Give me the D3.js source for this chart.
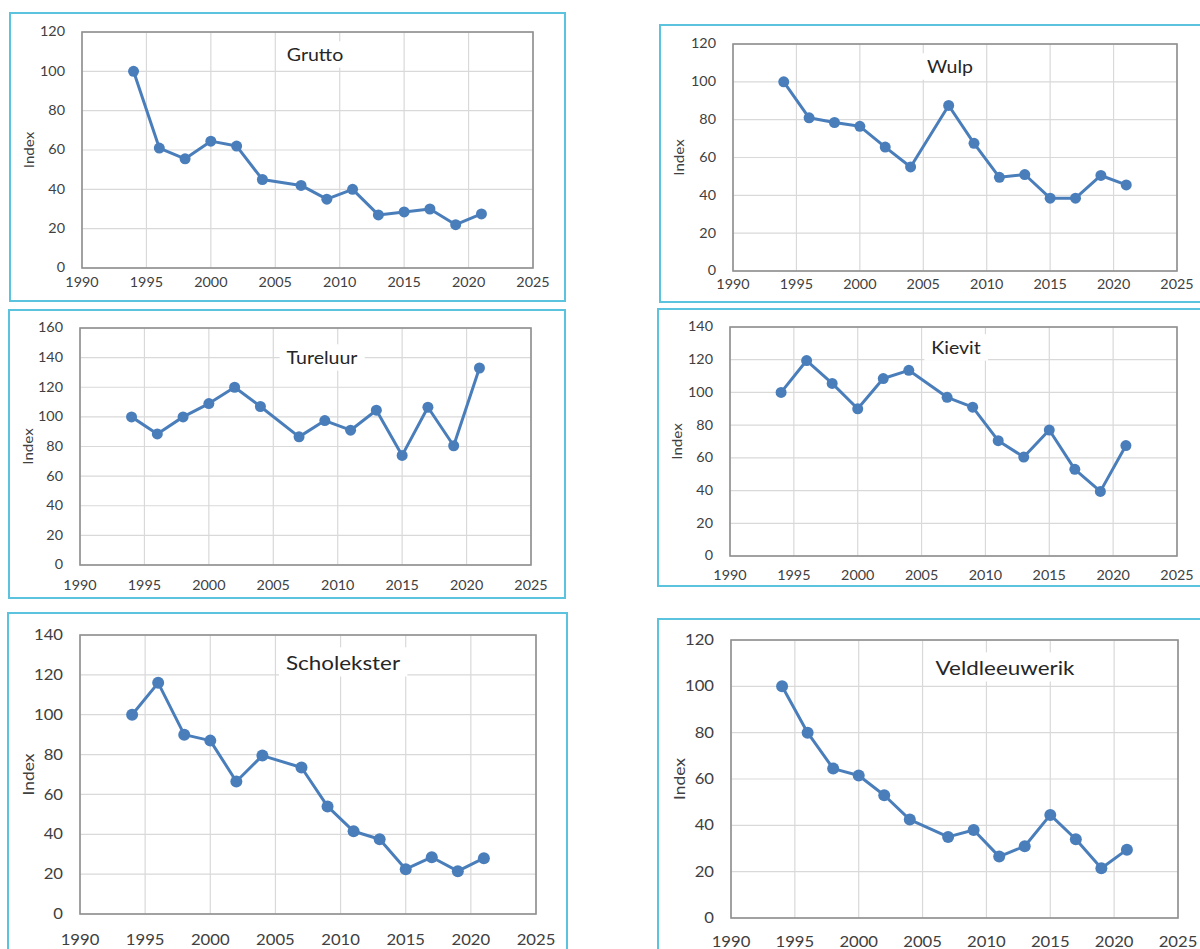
<!DOCTYPE html>
<html>
<head>
<meta charset="utf-8">
<script src="https://cdn.jsdelivr.net/npm/d3@7"></script>
<style>
  html, body { margin: 0; padding: 0; background: #ffffff; }
  svg { display: block; }
  text { font-family: Lato, "Open Sans", sans-serif; }
</style>
</head>
<body>
<svg id="chart" width="1200" height="949"></svg>
<script>
// ---- data ----
const years = [1994, 1996, 1998, 2000, 2002, 2004, 2007, 2009, 2011, 2013, 2015, 2017, 2019, 2021];
const grutto        = [100, 61, 55.5, 64.5, 62, 45, 42, 35, 40, 27, 28.5, 30, 22, 27.5];
const wulp          = [100, 81, 78.5, 76.5, 65.5, 55, 87.5, 67.5, 49.5, 51, 38.5, 38.5, 50.5, 45.5];
const tureluur      = [100, 88.5, 100, 109, 120, 107, 86.5, 97.5, 91, 104.5, 74, 106.5, 80.5, 133];
const kievit        = [100, 119.5, 105.5, 90, 108.5, 113.5, 97, 91, 70.5, 60.5, 77, 53, 39.5, 67.5];
const scholekster   = [100, 116, 90, 87, 66.5, 79.5, 73.5, 54, 41.5, 37.5, 22.5, 28.5, 21.5, 28];
const veldleeuwerik = [100, 80, 64.5, 61.5, 53, 42.5, 35, 38, 26.5, 31, 44.5, 34, 21.5, 29.5];
const xTicks   = [1990, 1995, 2000, 2005, 2010, 2015, 2020, 2025];
const yTicks120 = [0, 20, 40, 60, 80, 100, 120];
const yTicks140 = [0, 20, 40, 60, 80, 100, 120, 140];
const yTicks160 = [0, 20, 40, 60, 80, 100, 120, 140, 160];
const yLabel = "Index";

// ---- layout (positions / sizes) ----
const panels = [
  { title: "Grutto", values: grutto, yTicks: yTicks120,
    box: [10, 13, 565, 301], plot: [82, 32, 533, 268], fs: 12.5, tfs: 17, tx: 315, ty: 55, ix: 29, xo: 15 },
  { title: "Wulp", values: wulp, yTicks: yTicks120,
    box: [660, 25, 1215, 302], plot: [733, 44, 1177, 271], fs: 12.5, tfs: 17, tx: 950, ty: 67, ix: 679, xo: 14 },
  { title: "Tureluur", values: tureluur, yTicks: yTicks160,
    box: [9, 310, 565, 598], plot: [80, 328, 531, 565], fs: 12.5, tfs: 17, tx: 322, ty: 358, ix: 28, xo: 21 },
  { title: "Kievit", values: kievit, yTicks: yTicks140,
    box: [658, 309, 1215, 586], plot: [730, 327, 1177, 556], fs: 12.5, tfs: 17, tx: 956, ty: 348, ix: 677, xo: 20 },
  { title: "Scholekster", values: scholekster, yTicks: yTicks140,
    box: [8, 613, 567, 975], plot: [80, 635, 536, 914], fs: 14.5, tfs: 19.5, tx: 343, ty: 663, ix: 29, xo: 26 },
  { title: "Veldleeuwerik", values: veldleeuwerik, yTicks: yTicks120,
    box: [658, 619, 1215, 975], plot: [731, 640, 1178, 918], fs: 14.5, tfs: 19.5, tx: 1005, ty: 668, ix: 680, xo: 24 }
];

const SX = 1.15; // horizontal stretch of text like the reference
const blue = "#4a7ebb";
const svg = d3.select("#chart");

panels.forEach(p => {
  const [bx0, by0, bx1, by1] = p.box;
  const [px0, py0, px1, py1] = p.plot;
  const g = svg.append("g");

  g.append("rect")
    .attr("x", bx0).attr("y", by0)
    .attr("width", bx1 - bx0).attr("height", by1 - by0)
    .attr("fill", "#fff").attr("stroke", "#5cc3de").attr("stroke-width", 2);

  const x = d3.scaleLinear().domain([xTicks[0], xTicks[xTicks.length - 1]]).range([px0, px1]);
  const y = d3.scaleLinear().domain([0, d3.max(p.yTicks)]).range([py1, py0]);

  // gridlines
  g.append("g").selectAll("line").data(p.yTicks).join("line")
    .attr("x1", px0).attr("x2", px1)
    .attr("y1", d => y(d)).attr("y2", d => y(d))
    .attr("stroke", "#d9d9d9").attr("stroke-width", 1.2);
  g.append("g").selectAll("line").data(xTicks).join("line")
    .attr("y1", py0).attr("y2", py1)
    .attr("x1", d => x(d)).attr("x2", d => x(d))
    .attr("stroke", "#d9d9d9").attr("stroke-width", 1.2);

  // plot border
  g.append("rect")
    .attr("x", px0).attr("y", py0)
    .attr("width", px1 - px0).attr("height", py1 - py0)
    .attr("fill", "none").attr("stroke", "#8f8f8f").attr("stroke-width", 1.6);

  // title with white background
  const tg = g.append("g").attr("transform", `translate(${p.tx},${p.ty}) scale(${SX},1)`);
  const tt = tg.append("text")
    .attr("text-anchor", "middle").attr("dy", "0.35em")
    .attr("font-size", p.tfs).attr("fill", "#262626")
    .text(p.title);
  const bb = tt.node().getBBox();
  tg.insert("rect", "text")
    .attr("x", bb.x - 6).attr("y", bb.y - 3)
    .attr("width", bb.width + 12).attr("height", bb.height + 6)
    .attr("fill", "#fff");

  // y tick labels
  p.yTicks.forEach(t => {
    g.append("g").attr("transform", `translate(${px0 - 17},${y(t)}) scale(${SX},1)`)
      .append("text").attr("text-anchor", "end").attr("dy", "0.35em")
      .attr("font-size", p.fs).attr("fill", "#404040").text(t);
  });
  // x tick labels
  xTicks.forEach(t => {
    g.append("g").attr("transform", `translate(${x(t)},${py1 + p.xo}) scale(${SX},1)`)
      .append("text").attr("text-anchor", "middle").attr("dy", "0.35em")
      .attr("font-size", p.fs).attr("fill", "#404040").text(t);
  });

  // y axis label
  g.append("text")
    .attr("transform", `translate(${p.ix},${(py0 + py1) / 2}) rotate(-90) scale(${SX},1)`)
    .attr("text-anchor", "middle").attr("dy", "0.35em")
    .attr("font-size", p.fs * 1.05).attr("fill", "#404040").text(yLabel);

  // series
  const pts = years.map((yr, i) => [yr, p.values[i]]);
  g.append("path").datum(pts)
    .attr("d", d3.line().x(d => x(d[0])).y(d => y(d[1])))
    .attr("fill", "none").attr("stroke", blue).attr("stroke-width", 3)
    .attr("stroke-linejoin", "round");
  g.append("g").selectAll("circle").data(pts).join("circle")
    .attr("cx", d => x(d[0])).attr("cy", d => y(d[1]))
    .attr("r", p.fs > 13 ? 6 : 5.5).attr("fill", blue);
});
</script>
</body>
</html>
